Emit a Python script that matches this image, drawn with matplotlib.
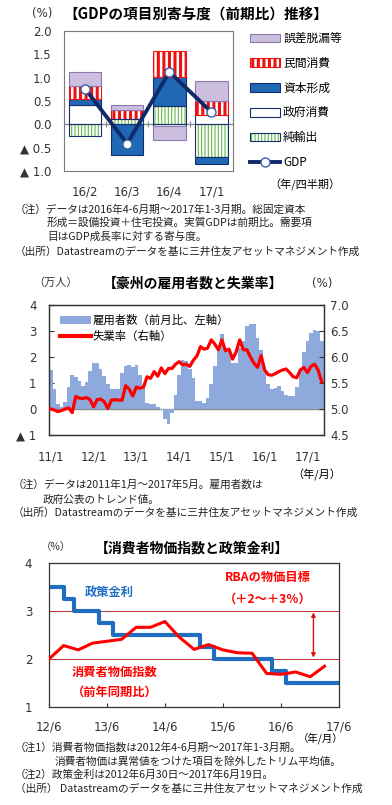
import matplotlib
matplotlib.use('Agg')
import matplotlib.pyplot as plt
from matplotlib.patches import Patch, Rectangle
from matplotlib.lines import Line2D
import numpy as np
import pandas as pd

plt.rcParams['font.family'] = ['Noto Sans CJK JP', 'DejaVu Sans']
NUM = ['DejaVu Sans']

# ===== data: GDP contributions (q/q, %) =====
quarters = ['16/2', '16/3', '16/4', '17/1']
net_exports = [-0.265, 0.115, 0.387, -0.71]
gov_cons = [0.415, 0.0, -0.05, 0.2]
capital = [0.115, -0.67, 0.623, -0.14]
private_cons = [0.286, 0.185, 0.57, 0.29]
discrepancy = [0.304, 0.115, -0.29, 0.44]
gdp = [0.76, -0.42, 1.12, 0.26]

# ===== data: employment (10k persons, m/m) and unemployment rate (%) 2011/1-2017/5 =====
employment = [1.5, 0.75, 0.2, 0.08, 0.27, 0.83, 1.3, 1.22, 1.06, 0.9, 1.05, 1.45,
              1.75, 1.77, 1.55, 1.26, 0.96, 0.78, 0.78, 0.78, 1.4, 1.65, 1.7, 1.6,
              1.7, 1.32, 0.94, 0.23, 0.2, 0.18, 0.08, -0.05, -0.4, -0.58, -0.15, 0.55,
              1.3, 1.9, 1.86, 1.55, 1.19, 0.32, 0.3, 0.23, 0.42, 0.96, 1.64, 2.35,
              2.88, 2.35, 2.2, 1.77, 1.77, 2.35, 2.6, 3.18, 3.27, 3.27, 2.73, 2.28,
              1.5, 0.95, 0.75, 0.8, 0.87, 0.7, 0.55, 0.5, 0.5, 0.85, 1.5, 2.2,
              2.6, 2.92, 3.05, 3.0, 2.6]
unemployment = [5.0, 4.98, 4.95, 4.97, 5.0, 5.02, 4.93, 5.24, 5.21, 5.2, 5.22, 5.18,
                5.04, 5.18, 5.19, 5.14, 5.01, 5.17, 5.18, 5.17, 5.17, 5.45, 5.38, 5.25,
                5.42, 5.4, 5.42, 5.62, 5.59, 5.72, 5.63, 5.79, 5.68, 5.78, 5.78, 5.86,
                5.91, 5.85, 5.86, 5.82, 5.94, 6.02, 6.2, 6.15, 6.17, 6.33, 6.25, 6.14,
                6.33, 6.12, 6.15, 5.96, 6.1, 6.33, 6.14, 6.14, 6.0, 5.88, 5.8, 6.03,
                5.75, 5.66, 5.65, 5.68, 5.72, 5.75, 5.77, 5.7, 5.62, 5.6, 5.75, 5.8,
                5.7, 5.82, 5.86, 5.75, 5.52]
emp_tick_idx = [0, 12, 24, 36, 48, 60, 72]
emp_tick_labels = ['11/1', '12/1', '13/1', '14/1', '15/1', '16/1', '17/1']

# ===== data: CPI (trimmed mean, y/y %) and policy rate =====
cpi_dates = pd.period_range('2012Q2', periods=20, freq='Q').end_time.normalize()
cpi = [2.0, 2.28, 2.19, 2.33, 2.37, 2.41, 2.66, 2.66, 2.78, 2.45,
       2.2, 2.3, 2.19, 2.13, 2.12, 1.7, 1.68, 1.73, 1.63, 1.85]
rate_dates = pd.to_datetime(['2012-06-30', '2012-10-03', '2012-12-05', '2013-05-08',
                             '2013-08-07', '2015-02-04', '2015-05-06', '2016-05-04',
                             '2016-08-03', '2017-06-19'])
policy_rate = [3.5, 3.25, 3.0, 2.75, 2.5, 2.25, 2.0, 1.75, 1.5, 1.5]
target_band = [2.0, 3.0]
cpi_ticks = pd.to_datetime(['2012-06-30', '2013-06-30', '2014-06-30',
                            '2015-06-30', '2016-06-30', '2017-06-30'])
cpi_tick_labels = ['12/6', '13/6', '14/6', '15/6', '16/6', '17/6']

W, H = 392, 805
fig = plt.figure(figsize=(W / 100, H / 100), dpi=100)


def box(l, t, r, b):
    return [l / W, 1 - b / H, (r - l) / W, (b - t) / H]


def ftext(x, y, s, **kw):
    kw.setdefault('ha', 'center')
    kw.setdefault('va', 'center')
    return fig.text(x / W, 1 - y / H, s, **kw)


def hatch_lw(artists, lw):
    for a in artists:
        if hasattr(a, 'set_hatch_linewidth'):
            a.set_hatch_linewidth(lw)


c_lav, c_lav_e = '#cbbede', '#8c78ad'
c_red = '#ee1111'
c_blue, c_navy = '#2068b4', '#14306e'
c_green = '#62b846'
c_gdp = '#10296a'
H_RED, H_GREEN = '|||', '|||||'

# ===================== Panel 1 =====================
ax1 = fig.add_axes(box(64, 31, 232.5, 170.7))
x = np.arange(len(quarters))
bw = 0.77
pos = np.zeros(len(quarters))
neg = np.zeros(len(quarters))
layers = [
    (net_exports, 'green'),
    (gov_cons, 'gov'),
    (capital, 'cap'),
    (private_cons, 'priv'),
    (discrepancy, 'disc'),
]
plt.rcParams['hatch.linewidth'] = 2.2
for vals, kind in layers:
    v = np.array(vals)
    base = np.where(v >= 0, pos, neg)
    m = v != 0
    if kind == 'green':
        b = ax1.bar(x[m], v[m], bw, bottom=base[m], facecolor='white', edgecolor=c_green,
                    linewidth=0, hatch=H_GREEN, zorder=2)
        hatch_lw(b, 0.8)
        ax1.bar(x[m], v[m], bw, bottom=base[m], fill=False, edgecolor=c_navy, linewidth=0.8, zorder=2.1)
    elif kind == 'gov':
        ax1.bar(x[m], v[m], bw, bottom=base[m], facecolor='white', edgecolor=c_navy, linewidth=0.8, zorder=2)
    elif kind == 'cap':
        ax1.bar(x[m], v[m], bw, bottom=base[m], facecolor=c_blue, edgecolor=c_navy, linewidth=0.8, zorder=2)
    elif kind == 'priv':
        b = ax1.bar(x[m], v[m], bw, bottom=base[m], facecolor='white', edgecolor=c_red,
                    linewidth=0.8, hatch=H_RED, zorder=2)
        hatch_lw(b, 2.2)
    else:
        ax1.bar(x[m], v[m], bw, bottom=base[m], facecolor=c_lav, edgecolor=c_lav_e, linewidth=0.8, zorder=2)
    pos += np.clip(v, 0, None)
    neg += np.clip(v, None, 0)

ax1.axhline(0, color='#8a8a8a', lw=1, zorder=1)
ax1.plot(x[:-1] + 0.5, np.zeros(len(x) - 1), ls='none', marker='|', ms=5, mew=0.8, color='#8a8a8a', zorder=1)
ax1.plot(x, gdp, color=c_gdp, lw=2.8, marker='o', ms=6.5, mfc='white', mec='#3b62a6', mew=1, zorder=5)
ax1.set_xlim(-0.5, 3.5)
ax1.set_ylim(-1, 2)
ax1.set_xticks(x)
ax1.set_xticklabels(quarters, family=NUM, fontsize=8.5)
ax1.set_yticks([-1, -0.5, 0, 0.5, 1, 1.5, 2])
ax1.set_yticklabels(['▲ 1.0', '▲ 0.5', '0.0', '0.5', '1.0', '1.5', '2.0'], family=NUM, fontsize=8.5)
ax1.tick_params(length=0, colors='#333333')
ax1.tick_params(axis='x', pad=11)
ax1.tick_params(axis='y', pad=9)
for s in ax1.spines.values():
    s.set_color('#7a7a7a')
    s.set_linewidth(0.8)

h_green = (Patch(facecolor='white', edgecolor=c_green, linewidth=0, hatch=H_GREEN),
           Patch(fill=False, edgecolor=c_navy, linewidth=0.8))
h_priv = Patch(facecolor='white', edgecolor=c_red, linewidth=0.8, hatch=H_RED)
handles1 = [
    Patch(facecolor=c_lav, edgecolor=c_lav_e, linewidth=0.8),
    h_priv,
    Patch(facecolor=c_blue, edgecolor=c_navy, linewidth=0.8),
    Patch(facecolor='white', edgecolor=c_navy, linewidth=0.8),
    h_green,
    Line2D([], [], color=c_gdp, lw=2.8, marker='o', ms=6.5, mfc='white', mec='#3b62a6', mew=1),
]
labels1 = ['誤差脱漏等', '民間消費', '資本形成', '政府消費', '純輸出', 'GDP']
leg1 = fig.legend(handles1, labels1, loc='upper left', bbox_to_anchor=(250 / W, 1 - 32 / H),
                  frameon=False, fontsize=8.5, handlelength=2.5, handleheight=0.75,
                  handletextpad=0.3, labelspacing=1.0, borderpad=0, borderaxespad=0)
for r in leg1.findobj(Rectangle):
    if r.get_hatch() == H_GREEN:
        hatch_lw([r], 0.8)
    elif r.get_hatch() == H_RED:
        hatch_lw([r], 2.2)

ftext(196, 15, '【GDPの項目別寄与度（前期比）推移】', fontsize=10.5, fontweight='bold')
ftext(42, 14, '(%)', fontsize=8.5, family=NUM, color='#333333')
ftext(305, 185, '（年/四半期）', fontsize=8)

notes1 = [(15, 210, '（注）データは2016年4-6月期～2017年1-3月期。総固定資本'),
          (47, 223, '形成＝設備投資＋住宅投資。実質GDPは前期比。需要項'),
          (47, 237, '目はGDP成長率に対する寄与度。'),
          (15, 252, '（出所）Datastreamのデータを基に三井住友アセットマネジメント作成')]
for nx, ny, s in notes1:
    ftext(nx, ny, s, ha='left', fontsize=7.7, color='#222222')

# ===================== Panel 2 =====================
ax2 = fig.add_axes(box(49, 305, 323.5, 435))
idx = np.arange(len(employment))
ax2.bar(idx, employment, width=1.0, color='#8eaadc', linewidth=0, zorder=2)
ax2.axhline(0, color='#8a8a8a', lw=1, zorder=1)
ax2.set_xlim(-0.5, len(employment) - 0.5)
ax2.set_ylim(-1, 4)
ax2.set_yticks([-1, 0, 1, 2, 3, 4])
ax2.set_yticklabels(['▲ 1', '0', '1', '2', '3', '4'], family=NUM, fontsize=8.5)
ax2.set_xticks(emp_tick_idx)
ax2.set_xticklabels(emp_tick_labels, family=NUM, fontsize=8.5)
ax2.tick_params(axis='y', direction='in', length=3.5, pad=9, colors='#333333')
ax2.tick_params(axis='x', length=0, pad=11, colors='#333333')
ax2r = ax2.twinx()
ax2r.plot(idx, unemployment, color='#ff0000', lw=2.3, zorder=3)
ax2r.set_ylim(4.5, 7.0)
ax2r.set_yticks([4.5, 5.0, 5.5, 6.0, 6.5, 7.0])
ax2r.set_yticklabels(['4.5', '5.0', '5.5', '6.0', '6.5', '7.0'], family=NUM, fontsize=8.5)
ax2r.tick_params(axis='y', direction='in', length=3.5, pad=5, colors='#333333')
for a in (ax2, ax2r):
    for s in a.spines.values():
        s.set_color('#333333')
        s.set_linewidth(0.9)
ax2r.legend([Patch(facecolor='#8eaadc', linewidth=0), Line2D([], [], color='#ff0000', lw=3)],
            ['雇用者数（前月比、左軸）', '失業率（右軸）'],
            loc='upper left', bbox_to_anchor=(60 / W, 1 - 315 / H), bbox_transform=fig.transFigure,
            frameon=False, fontsize=8.2, handlelength=2.7, handleheight=0.75,
            handletextpad=0.15, labelspacing=0.45, borderpad=0, borderaxespad=0)

ftext(193, 283, '【豪州の雇用者数と失業率】', fontsize=10, fontweight='bold')
ftext(56, 283, '（万人）', fontsize=8, color='#333333')
ftext(322, 283, '(%)', fontsize=8.5, family=NUM, color='#333333')
ftext(317, 475, '（年/月）', fontsize=8)

notes2 = [(13, 485, '（注）データは2011年1月～2017年5月。雇用者数は'),
          (43, 500, '政府公表のトレンド値。'),
          (13, 513, '（出所）Datastreamのデータを基に三井住友アセットマネジメント作成')]
for nx, ny, s in notes2:
    ftext(nx, ny, s, ha='left', fontsize=7.7, color='#222222')

# ===================== Panel 3 =====================
ax3 = fig.add_axes(box(49, 563, 339, 707))
for lvl in target_band:
    ax3.axhline(lvl, color='#b01010', lw=0.6, zorder=1)
ax3.step(rate_dates, policy_rate, where='post', color='#1f6ec2', lw=3, zorder=2)
ax3.plot(cpi_dates, cpi, color='#ff0000', lw=2.2, zorder=3)
ax3.annotate('', xy=(pd.Timestamp('2017-01-20'), target_band[1]),
             xytext=(pd.Timestamp('2017-01-20'), target_band[0]),
             arrowprops=dict(arrowstyle='<|-|>', color='#e01010', lw=1, mutation_scale=6,
                             shrinkA=1, shrinkB=1), zorder=4)
ax3.set_xlim(cpi_ticks[0], cpi_ticks[-1])
ax3.set_ylim(1, 4)
ax3.set_yticks([1, 2, 3, 4])
ax3.set_yticklabels(['1', '2', '3', '4'], family=NUM, fontsize=8.5)
ax3.set_xticks(cpi_ticks)
ax3.set_xticklabels(cpi_tick_labels, family=NUM, fontsize=8.5)
ax3.tick_params(axis='y', length=0, pad=12, colors='#333333')
ax3.tick_params(axis='x', direction='in', length=3, pad=10, colors='#333333')
for s in ax3.spines.values():
    s.set_color('#333333')
    s.set_linewidth(0.9)

ftext(192, 548, '【消費者物価指数と政策金利】', fontsize=10, fontweight='bold')
ftext(56, 547, '（%）', fontsize=7.5, color='#333333')
ftext(268, 578, 'RBAの物価目標', fontsize=8.8, fontweight='bold', color='#ff0000')
ftext(268, 599, '（＋2～＋3％）', fontsize=8.8, fontweight='bold', color='#ff0000')
ftext(109, 592, '政策金利', fontsize=8.8, fontweight='bold', color='#1f6ec2')
ftext(115, 672, '消費者物価指数', fontsize=8.8, fontweight='bold', color='#ff0000')
ftext(115, 692, '（前年同期比）', fontsize=8.8, fontweight='bold', color='#ff0000')
ftext(321, 738, '（年/月）', fontsize=7.5)

notes3 = [(15, 748, '（注1）消費者物価指数は2012年4-6月期～2017年1-3月期。'),
          (55, 762, '消費者物価は異常値をつけた項目を除外したトリム平均値。'),
          (15, 775, '（注2）政策金利は2012年6月30日～2017年6月19日。'),
          (15, 789, '（出所） Datastreamのデータを基に三井住友アセットマネジメント作成')]
for nx, ny, s in notes3:
    ftext(nx, ny, s, ha='left', fontsize=7.7, color='#222222')

fig.savefig('out.png', dpi=100, facecolor='white')
plt.close(fig)
